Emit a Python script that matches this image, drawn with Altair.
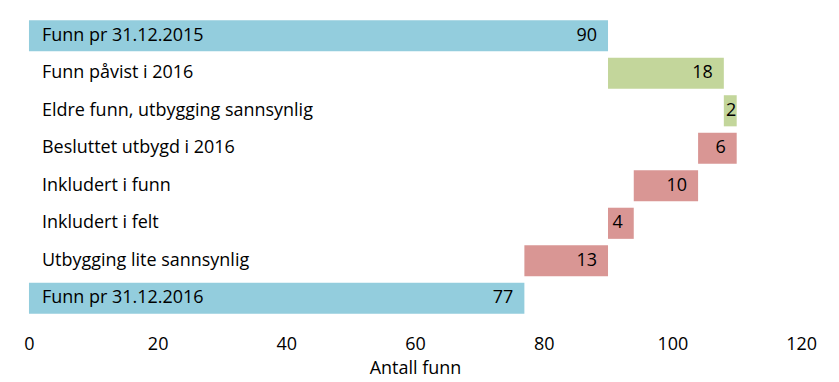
import altair as alt
import pandas as pd

categories = ["Funn pr 31.12.2015", "Funn påvist i 2016", "Eldre funn, utbygging sannsynlig",
              "Besluttet utbygd i 2016", "Inkludert i funn", "Inkludert i felt",
              "Utbygging lite sannsynlig", "Funn pr 31.12.2016"]
starts = [0, 90, 108, 104, 94, 90, 77, 0]
ends = [90, 108, 110, 110, 104, 94, 90, 77]
values = [90, 18, 2, 6, 10, 4, 13, 77]
kinds = ["total", "pluss", "pluss", "minus", "minus", "minus", "minus", "total"]

df = pd.DataFrame({"kat": categories, "start": starts, "slutt": ends, "verdi": values, "type": kinds})

FONT = "Open Sans"
FS = 18
yenc = alt.Y("kat:N", sort=categories, axis=None,
             scale=alt.Scale(paddingInner=0.17, paddingOuter=0.08))

bars = alt.Chart(df).mark_bar().encode(
    x=alt.X("start:Q", scale=alt.Scale(domain=[0, 120]),
            axis=alt.Axis(values=[0, 20, 40, 60, 80, 100, 120], grid=False, domain=False, ticks=False,
                          labelFlush=False, labelFontSize=FS, labelFont=FONT, labelColor="#000",
                          labelPadding=19,
                          title="Antall funn", titleFontSize=FS, titleFont=FONT, titleFontWeight="normal",
                          titleColor="#000", titlePadding=6)),
    x2="slutt:Q",
    y=yenc,
    color=alt.Color("type:N", scale=alt.Scale(domain=["total", "pluss", "minus"],
                                              range=["#93CDDD", "#C3D69B", "#D99694"]), legend=None),
)

cat_text = alt.Chart(df).mark_text(align="left", dx=13, fontSize=FS, font=FONT, color="#000").encode(
    x=alt.datum(0), y=yenc, text="kat:N")

val_text = alt.Chart(df).transform_filter("datum.verdi >= 4").mark_text(
    align="right", dx=-11, fontSize=FS, font=FONT, color="#000").encode(
    x="slutt:Q", y=yenc, text="verdi:Q")

val_small = alt.Chart(df).transform_filter("datum.verdi < 4").transform_calculate(
    mid="(datum.start + datum.slutt) / 2").mark_text(
    align="center", dx=1, fontSize=FS, font=FONT, color="#000").encode(
    x="mid:Q", y=yenc, text="verdi:Q")

chart = (bars + cat_text + val_text + val_small).properties(
    width=773, height=300,
    autosize=alt.AutoSizeParams(type="none"),
    padding={"left": 21, "top": 9, "right": 30, "bottom": 64},
).configure_view(stroke=None)

chart.save("out.html", embed_options={"renderer": "svg", "actions": False})
